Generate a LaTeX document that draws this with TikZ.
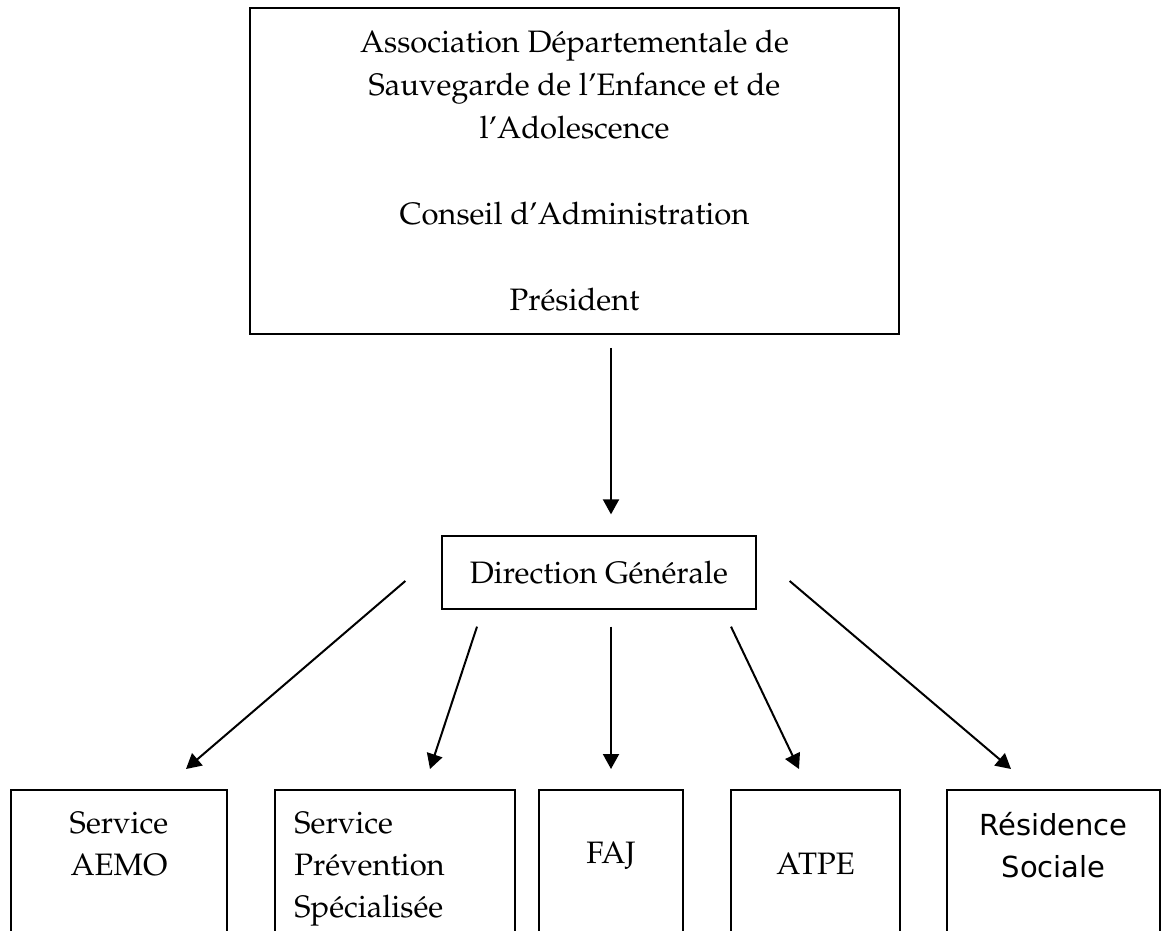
\documentclass[tikz,border=0pt]{standalone}
\usepackage[T1]{fontenc}
\usepackage{fontspec}
\usepackage{tikz}
\usetikzlibrary{arrows.meta}
\newfontfamily\residfont{DejaVu Sans}
\newcommand\palfont{\fontencoding{T1}\fontfamily{ppl}\fontsize{31}{42}\selectfont}

\begin{document}
\begin{tikzpicture}[
			x=1pt, y=-1pt,
			box/.style={draw, line width=1.6pt, inner sep=0pt},
			unit/.style={box, anchor=north, minimum height=190pt},
			txt/.style={inner sep=0pt, align=center, font=\palfont},
			arrow/.style={-{Triangle[length=15pt,width=16pt]}, line width=2pt}
			]
			\useasboundingbox (0,0) rectangle (1163,930);
			\node[box, line width=1.8pt, minimum width=649pt, minimum height=326pt,
				align=center, font=\palfont\fontsize{31}{43}\selectfont] (ca) at (574.5,171)
				{Association D\'epartementale de\\Sauvegarde de l'Enfance et de\\l'Adolescence\\[43pt]Conseil d'Administration\\[43pt]Pr\'esident};
			\node[box, line width=1.3pt, minimum width=314pt, minimum height=73pt, font=\palfont] (dir) at (599,572.5) {Direction G\'en\'erale};
			% services
			\node[unit, minimum width=216pt] (aemo) at (119,789) {};
			\node[unit, minimum width=240pt] (prev) at (395,789) {};
			\node[unit, minimum width=144pt] (faj) at (611,789) {};
			\node[unit, minimum width=169pt] (atpe) at (815.5,789) {};
			\node[unit, minimum width=213pt] (res) at (1053.5,789) {};
			\node[txt, anchor=north] (aemotxt) at ([yshift=-14.6pt]aemo.north) {\strut Service\\AEMO};
			\node[txt, anchor=north west, align=left] (prevtxt) at ([xshift=20pt,yshift=-14.6pt]prev.north west) {\strut Service\\Pr\'evention\\Sp\'ecialis\'ee};
			\node[txt, anchor=north] (fajtxt) at ([yshift=-44.6pt]faj.north) {\strut FAJ};
			\node[txt, anchor=north] (atpetxt) at ([yshift=-55.6pt]atpe.north) {\strut ATPE};
			\node[txt, anchor=north, font=\residfont\fontsize{29}{42}\selectfont] (restxt) at ([yshift=-16.6pt]res.north) {\strut R\'esidence\\Sociale};
			% arrows
			\draw[arrow] ([xshift=36.5pt,yshift=-13pt]ca.south) -- ([xshift=12pt,yshift=21pt]dir.north);
			\draw[arrow] ([xshift=-36pt,yshift=-8.5pt]dir.west) -- ([xshift=67pt,yshift=20pt]aemo.north);
			\draw[arrow] ([xshift=-122pt,yshift=-17pt]dir.south) -- ([xshift=35pt,yshift=20pt]prev.north);
			\draw[arrow] ([xshift=12pt,yshift=-17pt]dir.south) -- ([yshift=20pt]faj.north);
			\draw[arrow] ([xshift=132pt,yshift=-17pt]dir.south) -- ([xshift=-16.5pt,yshift=20pt]atpe.north);
			\draw[arrow] ([xshift=33pt,yshift=-8.5pt]dir.east) -- ([xshift=-42.5pt,yshift=20pt]res.north);
		\end{tikzpicture}
\end{document}
